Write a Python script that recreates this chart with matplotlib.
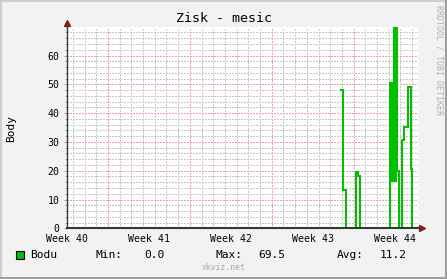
import matplotlib
matplotlib.use("Agg")
import matplotlib.pyplot as plt
import numpy as np
from matplotlib.lines import Line2D
from matplotlib.patches import Rectangle

# ---- data ----
title = "Zisk - mesic"
ylabel = "Body"
series_name = "Bodu"
week_labels = ["Week 40", "Week 41", "Week 42", "Week 43", "Week 44"]
week_label_days = [0, 7, 14, 21, 28]
week_boundary_days = [3.5, 10.5, 17.5, 24.5]
# step change times (hours from graph start) and values
step_hours = [562.9, 566.5, 571.8, 592.3, 597.4, 600.5,
              663, 665, 667, 669, 671, 673, 675, 677, 681,
              686.7, 690.8, 698.8, 704.9, 707.2, 712.0]
step_values = [48.0, 13.3, 0.0, 19.4, 18.2, 0.0,
               50.3, 16.5, 50.3, 16.5, 69.5, 16.5, 69.5, 20.0, 0.0,
               30.8, 35.3, 49.0, 20.6, 0.0, 0.0]
stat_min, stat_max, stat_avg = 0.0, 69.5, 11.2
y_ticks = [0, 10, 20, 30, 40, 50, 60]

W, H = 447, 279
fig = plt.figure(figsize=(W / 100, H / 100), dpi=100)
fig.patch.set_facecolor("#F2F2F2")
mono = "DejaVu Sans Mono"

def fx(px):
    return px / W

def fy(py):
    return 1 - py / H

# frame shading
fig.add_artist(Line2D([0, 1], [fy(0.5), fy(0.5)], transform=fig.transFigure, color="#CFCFCF", lw=1.5))
fig.add_artist(Line2D([fx(0.5), fx(0.5)], [0, 1], transform=fig.transFigure, color="#CFCFCF", lw=1.5))
fig.add_artist(Line2D([0, 1], [fy(278), fy(278)], transform=fig.transFigure, color="#9E9E9E", lw=2.2))
fig.add_artist(Line2D([fx(446), fx(446)], [0, 1], transform=fig.transFigure, color="#9E9E9E", lw=2.2))

L, R, T, B = 67, 418, 26.7, 228.3
ax = fig.add_axes([fx(L), fy(B), (R - L) / W, (B - T) / H])
ax.set_facecolor("#FFFFFF")
ax.set_xlim(0, 30)
ax.set_ylim(0, 70)
for s in ax.spines.values():
    s.set_visible(False)

grid_kw = dict(lw=0.72, linestyle=(0, (1.4, 1.4)), antialiased=False)
# minor grid
minor_x = [d + 0.5 for d in range(30) if (d + 0.5) not in week_boundary_days]
for xv in minor_x:
    ax.axvline(xv, color="#C8C8C8", zorder=1, **grid_kw)
minor_y = [v for v in range(2, 70, 2) if v % 10 != 0]
for yv in minor_y:
    ax.axhline(yv, color="#C8C8C8", zorder=1, **grid_kw)
# major grid
for xv in week_boundary_days:
    ax.axvline(xv, color="#F0A4A4", zorder=1, **grid_kw)
for yv in y_ticks[1:]:
    ax.axhline(yv, color="#F0A4A4", zorder=1, **grid_kw)

# data
t_days = np.array(step_hours) / 24.0
ax.plot(t_days, step_values, drawstyle="steps-post", color="#00C000",
        lw=1.44, solid_joinstyle="miter", solid_capstyle="projecting",
        antialiased=False, zorder=3)

# ticks
ax.set_xticks(week_label_days)
ax.set_xticklabels(week_labels, fontfamily=mono, fontsize=7.1)
ax.tick_params(axis="x", length=0, pad=4)
ax.set_yticks(y_ticks)
ax.set_yticklabels([str(v) for v in y_ticks], fontfamily=mono, fontsize=7.1)
ax.tick_params(axis="y", length=2.5, width=0.7, color="#A0A0A0", pad=3)
ax.set_yticks(minor_y, minor=True)
ax.tick_params(axis="y", which="minor", length=1.5, width=0.7, color="#A0A0A0")

# axes lines with arrows
ax.add_line(Line2D([0, 0], [0, 1.01], transform=ax.transAxes, color="#3A3A3A", lw=1.0, clip_on=False, zorder=4))
ax.add_line(Line2D([0, 1.008], [0, 0], transform=ax.transAxes, color="#2F3A2F", lw=1.5, clip_on=False, zorder=4))
ax.plot([0], [1.02], marker="^", ms=4.2, color="#801F1F", transform=ax.transAxes, clip_on=False, zorder=5)
ax.plot([1.012], [0], marker=">", ms=4.2, color="#801F1F", transform=ax.transAxes, clip_on=False, zorder=5)

# texts
fig.text(fx(223.5), fy(18), title, ha="center", va="center", fontfamily=mono, fontsize=9.6)
fig.text(fx(11), fy(128.5), ylabel, ha="center", va="center", rotation=90, fontfamily=mono, fontsize=8)
fig.text(fx(438.5), fy(5), "RRDTOOL / TOBI OETIKER", ha="center", va="top", rotation=270,
         fontfamily=mono, fontsize=6, color="#B0B0B0")

fig.add_artist(Rectangle((fx(15.5), fy(258.5)), 8 / W, 8 / H, transform=fig.transFigure,
                         facecolor="#00C000", edgecolor="#000000", lw=0.8))
ly = fy(254.5)
lfs = 8.1
fig.text(fx(30), ly, series_name, ha="left", va="center", fontfamily=mono, fontsize=lfs)
fig.text(fx(95), ly, "Min:", ha="left", va="center", fontfamily=mono, fontsize=lfs)
fig.text(fx(164.5), ly, f"{stat_min:.1f}", ha="right", va="center", fontfamily=mono, fontsize=lfs)
fig.text(fx(216), ly, "Max:", ha="left", va="center", fontfamily=mono, fontsize=lfs)
fig.text(fx(285), ly, f"{stat_max:.1f}", ha="right", va="center", fontfamily=mono, fontsize=lfs)
fig.text(fx(337), ly, "Avg:", ha="left", va="center", fontfamily=mono, fontsize=lfs)
fig.text(fx(406.5), ly, f"{stat_avg:.1f}", ha="right", va="center", fontfamily=mono, fontsize=lfs)
fig.text(fx(223.5), fy(268), "xkviz.net", ha="center", va="center", fontfamily=mono, fontsize=5.9, color="#A8A8A8")

fig.savefig("out.png", dpi=100, facecolor=fig.get_facecolor())
